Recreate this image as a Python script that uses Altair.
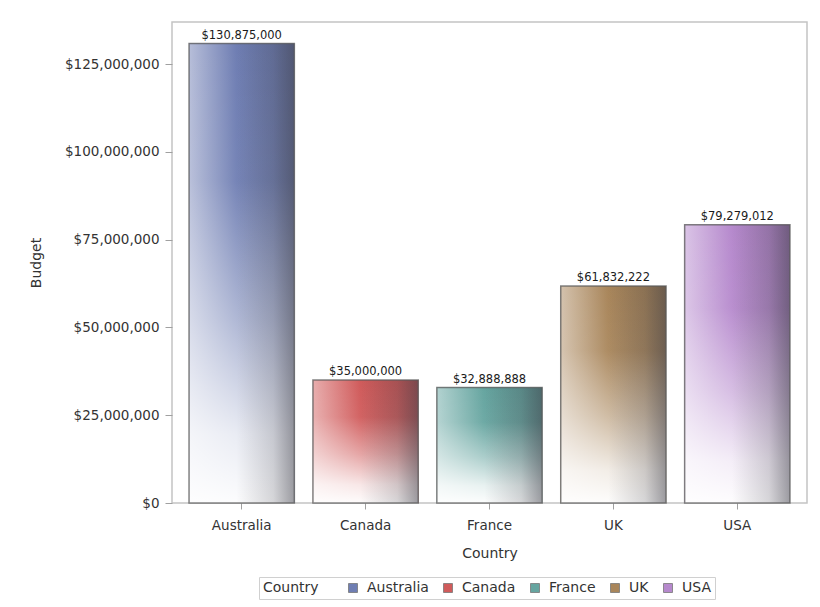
import altair as alt
import pandas as pd

countries = ["Australia", "Canada", "France", "UK", "USA"]
budgets = [130875000, 35000000, 32888888, 61832222, 79279012]
base_colors = ["#6F7EB3", "#D05B5B", "#66A5A0", "#A9865B", "#B689CD"]
y_ticks = [0, 25000000, 50000000, 75000000, 100000000, 125000000]

df = pd.DataFrame({"Country": countries, "Budget": budgets})

FONT = "DejaVu Sans"


def mix(hexc, other, t):
    a = [int(hexc[i:i + 2], 16) for i in (1, 3, 5)]
    b = [int(other[i:i + 2], 16) for i in (1, 3, 5)]
    c = [round(a[k] * (1 - t) + b[k] * t) for k in range(3)]
    return "#%02x%02x%02x" % tuple(c)


x_enc = alt.X(
    "Country:N",
    sort=countries,
    scale=alt.Scale(domain=countries, paddingInner=0.15, paddingOuter=0.1375),
    axis=alt.Axis(
        title="Country",
        labelAngle=0,
        labelFontSize=13.5,
        labelColor="#333333",
        labelPadding=9,
        tickSize=6,
        tickColor="#a0a0a0",
        domain=False,
        titleFontSize=14,
        titleFontWeight="normal",
        titleColor="#333333",
        titlePadding=15,
    ),
)
y_enc = alt.Y(
    "Budget:Q",
    scale=alt.Scale(domain=[0, 137000000], nice=False, zero=True),
    axis=alt.Axis(
        title="Budget",
        format="$,.0f",
        values=y_ticks,
        grid=False,
        domain=False,
        labelFontSize=13.5,
        labelColor="#333333",
        labelPadding=6,
        tickSize=7,
        tickColor="#a0a0a0",
        titleFontSize=14,
        titleFontWeight="normal",
        titleColor="#333333",
        titlePadding=21,
    ),
)

base = alt.Chart(df).mark_bar(strokeWidth=0).encode(
    x=x_enc,
    y=y_enc,
    color=alt.Color(
        "Country:N",
        scale=alt.Scale(domain=countries, range=base_colors),
        legend=alt.Legend(
            title="Country",
            orient="none",
            legendX=87,
            legendY=555,
            direction="horizontal",
            titleOrient="left",
            titleFontSize=14,
            titleFontWeight="normal",
            titleColor="#333333",
            titlePadding=27,
            labelFontSize=14,
            labelColor="#333333",
            labelOffset=7,
            columnPadding=12,
            symbolType="square",
            symbolSize=81,
            symbolStrokeColor="#777777",
            symbolStrokeWidth=0.8,
            symbolOpacity=1,
            strokeColor="#d0d0d0",
            fillColor="#ffffff",
            padding=4,
        ),
    ),
)

# overlays shared by all bars: white fade toward the bottom, grey shade on the right
fade = {
    "gradient": "linear",
    "x1": 0, "y1": 0, "x2": 0, "y2": 1,
    "stops": [
        {"offset": 0, "color": "rgba(255,255,255,0)"},
        {"offset": 0.3, "color": "rgba(255,255,255,0.05)"},
        {"offset": 0.6, "color": "rgba(255,255,255,0.45)"},
        {"offset": 0.85, "color": "rgba(255,255,255,0.85)"},
        {"offset": 1, "color": "rgba(255,255,255,0.98)"},
    ],
}
shade = {
    "gradient": "linear",
    "x1": 0, "y1": 0, "x2": 1, "y2": 0,
    "stops": [
        {"offset": 0, "color": "rgba(60,60,70,0)"},
        {"offset": 0.45, "color": "rgba(60,60,70,0)"},
        {"offset": 0.8, "color": "rgba(60,60,70,0.2)"},
        {"offset": 1, "color": "rgba(60,60,70,0.5)"},
    ],
}

layers = [base]
for c, col in zip(countries, base_colors):
    lin = {
        "gradient": "linear",
        "x1": 0, "y1": 0, "x2": 1, "y2": 0,
        "stops": [
            {"offset": 0, "color": mix(col, "#ffffff", 0.5)},
            {"offset": 0.45, "color": col},
            {"offset": 1, "color": mix(col, "#202020", 0.12)},
        ],
    }
    sub = alt.Chart(df).transform_filter(alt.datum.Country == c)
    layers.append(sub.mark_bar(fill=lin, strokeWidth=0).encode(x=x_enc, y=y_enc))
    layers.append(sub.mark_bar(fill=fade, strokeWidth=0).encode(x=x_enc, y=y_enc))
    layers.append(
        sub.mark_bar(fill=shade, stroke="#5a5a5a", strokeWidth=1.5, strokeOpacity=0.75)
        .encode(x=x_enc, y=y_enc)
    )

labels = alt.Chart(df).mark_text(
    baseline="bottom", dy=-3, fontSize=11.5, color="#1a1a1a", font=FONT
).encode(
    x=x_enc,
    y=y_enc,
    text=alt.Text("Budget:Q", format="$,.0f"),
)
layers.append(labels)

chart = (
    alt.layer(*layers)
    .properties(
        width=635,
        height=481,
        autosize=alt.AutoSizeParams(type="none"),
        padding={"left": 172, "top": 22, "right": 13, "bottom": 104},
        background="#ffffff",
    )
    .configure(font=FONT)
    .configure_view(stroke="#c4c4c4", strokeWidth=1.5)
)

chart.save("out.html", embed_options={"renderer": "svg", "actions": False})
